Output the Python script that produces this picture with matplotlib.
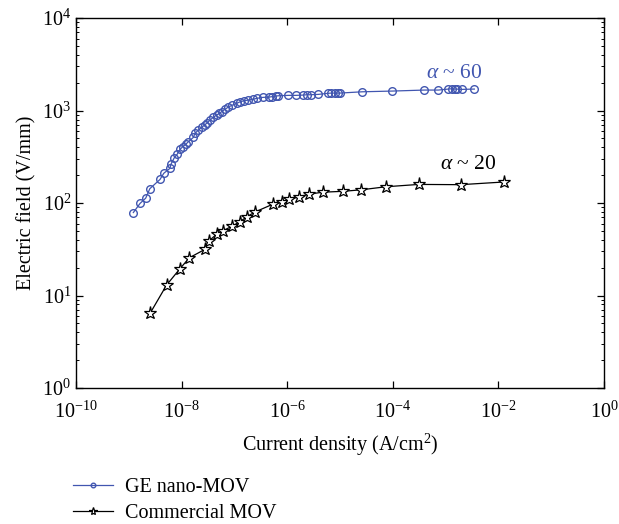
import numpy as np
import matplotlib
matplotlib.use("Agg")
import matplotlib.pyplot as plt
from matplotlib.ticker import LogLocator, NullFormatter

plt.rcParams["font.family"] = "Liberation Serif"
plt.rcParams["mathtext.fontset"] = "custom"
plt.rcParams["mathtext.rm"] = "Liberation Serif"
plt.rcParams["mathtext.it"] = "Liberation Serif:italic"

# GE nano-MOV (blue circles)
ge_J = [1.22e-9, 1.63e-9, 2.09e-9, 2.5e-9, 3.9e-9, 4.6e-9, 6.0e-9, 6.3e-9, 7.2e-9, 8.3e-9,
        9.3e-9, 1.05e-8, 1.21e-8, 1.34e-8, 1.67e-8, 1.79e-8, 2.07e-8, 2.4e-8, 2.77e-8, 3.07e-8,
        3.45e-8, 3.98e-8, 4.6e-8, 5.2e-8, 5.7e-8, 6.6e-8, 7.5e-8, 8.9e-8, 1.1e-7, 1.28e-7,
        1.52e-7, 1.84e-7, 2.22e-7, 2.64e-7, 3.43e-7, 4.6e-7, 5.1e-7, 6.1e-7, 6.8e-7, 1.05e-6,
        1.47e-6, 2.02e-6, 2.34e-6, 2.78e-6, 3.89e-6, 5.85e-6, 6.8e-6, 8.0e-6, 9.3e-6, 1.0e-5,
        2.65e-5, 9.8e-5, 3.95e-4, 7.3e-4, 1.12e-3, 1.30e-3, 1.51e-3, 1.62e-3, 2.02e-3, 3.5e-3]
ge_E = [79, 99, 113, 143, 180, 210, 237, 264, 306, 339,
        380, 406, 434, 460, 513, 566, 615, 658, 703, 739,
        789, 844, 894, 932, 970, 1030, 1082, 1138, 1196, 1245,
        1276, 1300, 1321, 1355, 1388, 1400, 1412, 1435, 1445, 1460,
        1460, 1471, 1483, 1483, 1496, 1535, 1546, 1546, 1546, 1546,
        1596, 1625, 1666, 1666, 1708, 1722, 1708, 1708, 1694, 1708]

# Commercial MOV (black stars)
com_J = [2.52e-9, 5.2e-9, 9.3e-9, 1.40e-8, 2.77e-8, 3.3e-8, 4.6e-8, 6.0e-8, 8.9e-8, 1.28e-7,
         1.71e-7, 2.45e-7, 5.3e-7, 7.9e-7, 1.10e-6, 1.70e-6, 2.62e-6, 4.7e-6, 1.16e-5, 2.5e-5,
         7.4e-5, 3.1e-4, 1.93e-3, 1.28e-2]
com_E = [6.4, 13.0, 19.5, 25.6, 31.6, 39, 46, 50, 56, 63,
         71, 80, 97, 102, 110, 117, 125, 131, 134, 139,
         150, 159, 158, 169]

blue = "#4156b0"
fs = 14.5

fig = plt.figure(figsize=(6.19, 5.24), dpi=100)
ax = fig.add_axes([0.1228, 0.2595, 0.853, 0.706])

ax.plot(ge_J, ge_E, "-o", color=blue, lw=0.9, ms=5.5, mfc="none", mew=1.0,
        label="GE nano-MOV")
ax.plot(com_J, com_E, "-*", color="black", lw=0.9, ms=9.5, mfc="white", mew=0.9,
        label="Commercial MOV")

ax.set_xscale("log")
ax.set_yscale("log")
ax.set_xlim(1e-10, 1)
ax.set_ylim(1, 1e4)

ax.xaxis.set_major_locator(LogLocator(base=100))
ax.xaxis.set_minor_locator(LogLocator(base=10, subs=[1.0]))
ax.xaxis.set_minor_formatter(NullFormatter())
ax.yaxis.set_minor_locator(LogLocator(base=10, subs=np.arange(2, 10)))
ax.yaxis.set_minor_formatter(NullFormatter())

ax.tick_params(which="both", direction="in", top=True, right=True, labelsize=fs)
ax.tick_params(which="major", length=5, width=0.9)
ax.tick_params(which="minor", length=2.5, width=0.7)
ax.xaxis.set_tick_params(which="minor", length=0)
ax.tick_params(axis="x", pad=10)
for s in ax.spines.values():
    s.set_linewidth(1.0)

ax.set_xlabel("Current density (A/cm$^2$)", fontsize=fs, labelpad=6)
ax.set_ylabel("Electric field (V/mm)", fontsize=fs, labelpad=4)

ax.text(1.48e-3, 2245, r"$\alpha$ ~ 60", color=blue, fontsize=15.5, ha="center", va="baseline")
ax.text(2.65e-3, 233, r"$\alpha$ ~ 20", color="black", fontsize=15.5, ha="center", va="baseline")

fig.legend(loc="upper left", bbox_to_anchor=(0.105, 0.104), frameon=False,
           fontsize=fs, handlelength=2.0, handletextpad=0.6, labelspacing=0.35,
           markerscale=0.6, borderaxespad=0)

fig.savefig("out.png", dpi=100)
